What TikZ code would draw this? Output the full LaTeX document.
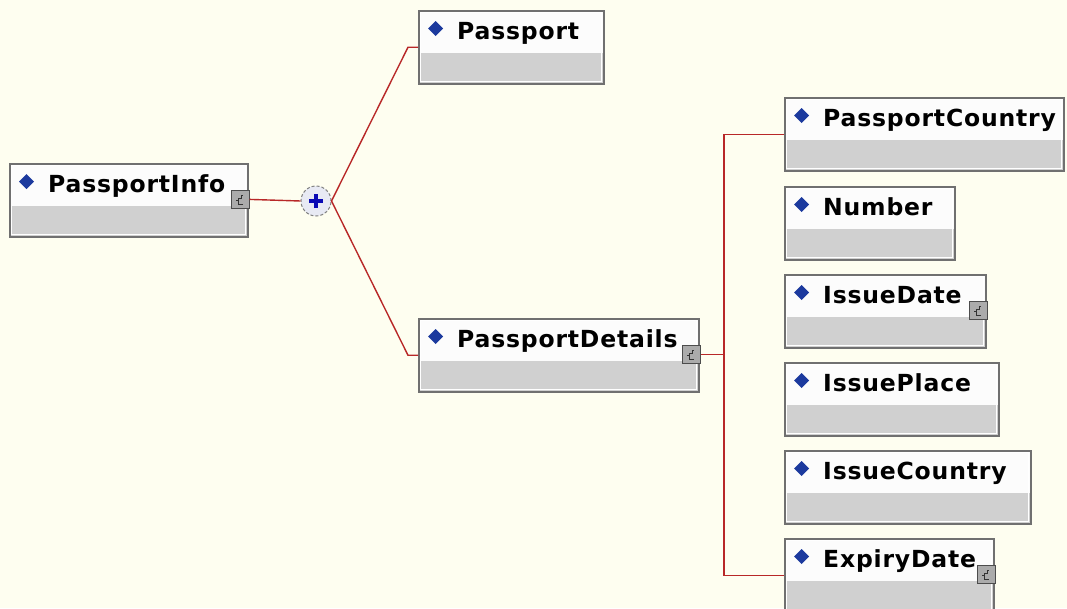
\documentclass[tikz,border=0pt]{standalone}
\usepackage{fontspec}
\newfontfamily\elemfont{DejaVu Sans}[LetterSpace=3.5]
\definecolor{bgcol}{HTML}{FEFEF0}
\definecolor{headwhite}{HTML}{FCFCFC}
\definecolor{bandgray}{HTML}{D0D0D0}
\definecolor{boxborder}{HTML}{707070}
\definecolor{diamblue}{HTML}{1C3A9E}
\definecolor{plusblue}{HTML}{0A0AB4}
\definecolor{connred}{HTML}{B82828}
\definecolor{seqfill}{HTML}{E8EAF4}
\definecolor{iconfill}{HTML}{ABABAB}
\tikzset{
  elembox/.style={draw=boxborder, line width=1.5pt, fill=bandgray, anchor=north west,
    minimum height=73pt, inner sep=0pt,
    path picture={
      \fill[headwhite] (path picture bounding box.north west) rectangle ([yshift=-42pt]path picture bounding box.north east);
      \draw[white, line width=1.2pt] ([shift={(2pt,-2pt)}]path picture bounding box.north west) rectangle ([shift={(-2pt,2pt)}]path picture bounding box.south east);
    }},
  elemlbl/.style={anchor=base west, inner sep=0pt, font=\elemfont\bfseries\fontsize{23.5}{28}\selectfont, text=black},
  iconbox/.style={draw=black!70, fill=iconfill, line width=0.8pt, minimum width=18pt, minimum height=18pt, inner sep=0pt, anchor=north east},
  conn/.style={draw=connred, line width=1.4pt},
  seqnode/.style={circle, draw=black!50, densely dashed, line width=1pt, fill=seqfill, minimum size=30pt, inner sep=0pt},
}
\newcommand\schemaelem[5]{%
  \node[elembox, minimum width=#4pt] (#1) at (#2,#3) {};
  \fill[diamblue] ([xshift=17.5pt,yshift=-11pt]#1.north west) -- ++(7.5pt,-7.5pt) -- ++(-7.5pt,-7.5pt) -- ++(-7.5pt,7.5pt) -- cycle;
  \node[elemlbl] (#1-t) at ([xshift=39pt,yshift=-29pt]#1.north west) {#5};
}
\newcommand\cicon[1]{%
  \node[iconbox] (#1-i) at ([xshift=1pt,yshift=-27pt]#1.north east) {};
  \draw[black!80, line width=0.9pt] ([shift={(3pt,-5pt)}]#1-i.center) -- ++(-5pt,0) -- ++(0,6pt) -- ++(3pt,0) -- ++(0,3pt) -- ++(2pt,0)
    ([shift={(-2pt,-1pt)}]#1-i.center) -- ++(-2pt,0);
}
\begin{document}
\begin{tikzpicture}[x=1pt,y=-1pt]
\useasboundingbox (0,0) rectangle (1067,608);
\clip (0,0) rectangle (1067,608);
\fill[bgcol] (0,0) rectangle (1067,608);

\schemaelem{pi}{9}{163}{238}{PassportInfo}
\cicon{pi}
\schemaelem{pp}{418}{10}{185}{Passport}
\schemaelem{pd}{418}{318}{280}{PassportDetails}
\cicon{pd}
\schemaelem{pc}{784}{97}{279}{PassportCountry}
\schemaelem{nu}{784}{186}{170}{Number}
\schemaelem{id}{784}{274}{201}{IssueDate}
\cicon{id}
\schemaelem{ip}{784}{362}{214}{IssuePlace}
\schemaelem{ic}{784}{450}{246}{IssueCountry}
\schemaelem{ed}{784}{538}{209}{ExpiryDate}
\cicon{ed}

\node[seqnode] (seq) at (316,201) {};
\draw[plusblue, line width=3.4pt] ([xshift=-7pt]seq.center) -- ([xshift=7pt]seq.center)
  ([yshift=-7pt]seq.center) -- ([yshift=7pt]seq.center);

\draw[conn] (pi-i.east) -- (seq.west);
\draw[conn] (seq.east) -- ([xshift=-10pt]pp.west) -- (pp.west);
\draw[conn] (seq.east) -- ([xshift=-10pt]pd.west) -- (pd.west);

\coordinate (bus) at (724,353);
\draw[conn] (pd-i.east) -- (pd-i.east -| bus);
\draw[conn] (pc.west) -- (pc.west -| bus) -- (ed.west -| bus) -- (ed.west);
\end{tikzpicture}
\end{document}
